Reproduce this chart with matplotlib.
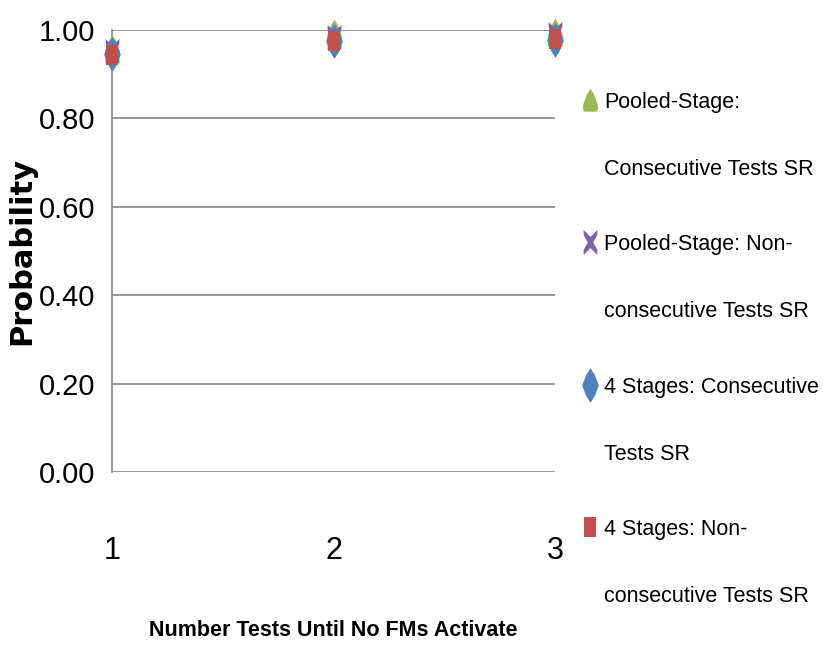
import numpy as np
import matplotlib
matplotlib.use('Agg')
import matplotlib.pyplot as plt
from matplotlib.path import Path
from matplotlib.ticker import FormatStrFormatter

plt.rcParams['font.family'] = ['Liberation Sans', 'DejaVu Sans']

# 数据
tests = [1, 2, 3]
pooled_consec = [0.963, 0.998, 1.0]
pooled_nonconsec = [0.952, 0.985, 0.99]
stages_consec = [0.945, 0.975, 0.978]
stages_nonconsec = [0.943, 0.975, 0.98]
labels = ['Pooled-Stage:\nConsecutive Tests SR',
          'Pooled-Stage: Non-\nconsecutive Tests SR',
          '4 Stages: Consecutive\nTests SR',
          '4 Stages: Non-\nconsecutive Tests SR']
colors = ['#9BBB59', '#8064A2', '#4F81BD', '#C0504D']

# 拉长的标记形状
tri = Path([(0, 1), (0.3, 0.5), (0.6, -0.3), (0.66, -0.7), (0.5, -0.95), (-0.5, -0.95),
            (-0.66, -0.7), (-0.6, -0.3), (-0.3, 0.5), (0, 1)], closed=True)
cross = Path([(-0.55, 1), (0, 0.45), (0.55, 1), (0.55, 0.6), (0.22, 0), (0.55, -0.6),
              (0.55, -1), (0, -0.45), (-0.55, -1), (-0.55, -0.6), (-0.22, 0),
              (-0.55, 0.6), (-0.55, 1)], closed=True)
diamond = Path([(0, 1), (0.25, 0.6), (0.48, 0), (0.25, -0.6), (0, -1),
                (-0.25, -0.6), (-0.48, 0), (-0.25, 0.6), (0, 1)], closed=True)
square = Path([(-0.3, -0.5), (0.3, -0.5), (0.3, 0.5), (-0.3, 0.5), (-0.3, -0.5)],
              closed=True)

fig = plt.figure(figsize=(8.23, 6.56), dpi=100)
ax = fig.add_axes([112 / 823, 184 / 656, 443 / 823, 442 / 656])

series = [pooled_consec, pooled_nonconsec, stages_consec, stages_nonconsec]
markers = [tri, cross, diamond, square]
sizes = [17, 18, 25, 15]
for vals, m, ms, c, lab in zip(series, markers, sizes, colors, labels):
    ax.plot(tests, vals, linestyle='none', marker=m, markersize=ms,
            color=c, markeredgewidth=0, label=lab, clip_on=False, zorder=3)

ax.set_xlim(1, 3)
ax.set_ylim(0, 1.0)
ax.set_yticks(np.arange(0, 1.01, 0.2))
ax.set_xticks(tests)
ax.yaxis.set_major_formatter(FormatStrFormatter('%.2f'))
ax.grid(axis='y', color='#868686', linewidth=1.2)
ax.set_axisbelow(True)
for s in ['top', 'right', 'bottom']:
    ax.spines[s].set_visible(False)
ax.spines['left'].set_color('#868686')
ax.spines['left'].set_linewidth(1.2)
ax.tick_params(axis='y', length=0, pad=12, labelsize=21)
ax.tick_params(axis='x', length=0, pad=46, labelsize=22)

ax.set_xlabel('Number Tests Until No FMs Activate', fontsize=15.5, fontweight='bold')
ax.xaxis.set_label_coords(0.5, -0.335)
ax.set_ylabel('Probability', fontsize=22, fontweight='bold', family='DejaVu Sans')
ax.yaxis.set_label_coords(-0.172, 0.5)

leg = ax.legend(loc='upper left', bbox_to_anchor=(579 / 823, 1 - 92 / 656),
                bbox_transform=fig.transFigure, frameon=False, fontsize=15.5,
                handlelength=1.0, handletextpad=0.15, labelspacing=2.55,
                borderpad=0, borderaxespad=0)
for t in leg.get_texts():
    t.set_linespacing(3.85)
for col in leg._legend_handle_box.get_children():
    for row in col.get_children():
        row.align = 'top'

plt.savefig('out.png', dpi=100)
